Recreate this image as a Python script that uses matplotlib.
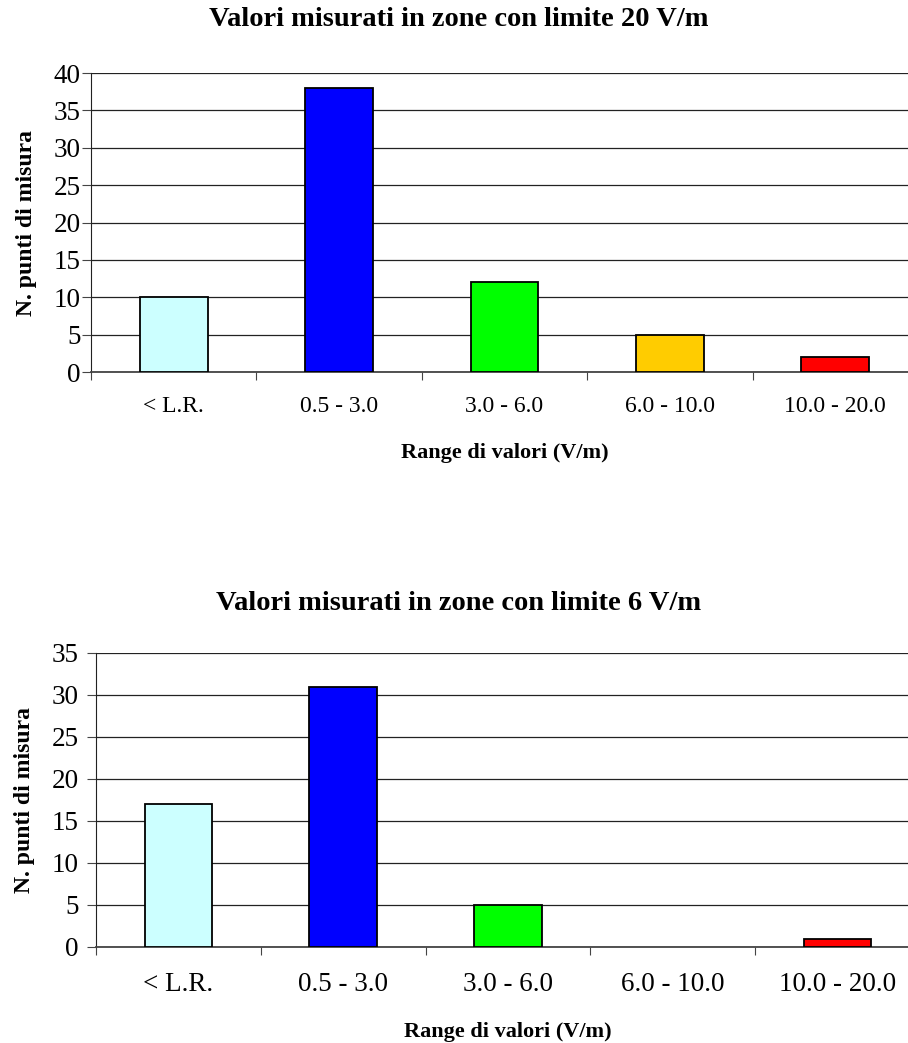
import matplotlib
matplotlib.use("Agg")
import matplotlib.pyplot as plt
import numpy as np

plt.rcParams['font.family'] = ['Liberation Serif', 'DejaVu Serif']

categories = ["< L.R.", "0.5 - 3.0", "3.0 - 6.0", "6.0 - 10.0", "10.0 - 20.0"]
values_20 = [10, 38, 12, 5, 2]
values_6 = [17, 31, 5, 0, 1]
colors = ["#CCFFFF", "#0000FF", "#00FF00", "#FFCC00", "#FF0000"]
title_20 = "Valori misurati in zone con limite 20 V/m"
title_6 = "Valori misurati in zone con limite 6 V/m"
ylabel = "N. punti di misura"
xlabel = "Range di valori (V/m)"

W, H = 908, 1043
fig = plt.figure(figsize=(W / 100, H / 100), dpi=100)

def make_ax(left, right, top, bottom, vals, ymax, title, title_y, xlabel_y,
            tick_fs, ytick_fs, xpad, ypad, ylpad):
    ax = fig.add_axes([left / W, 1 - bottom / H, (right - left) / W, (bottom - top) / H])
    x = np.arange(len(vals))
    lws = [1.3 if v > 0 else 0 for v in vals]
    ax.bar(x, vals, width=0.41, color=colors, edgecolor="black", linewidth=lws, zorder=3)
    ax.set_xlim(-0.5, len(vals) - 0.5)
    ax.set_ylim(0, ymax)
    ax.set_yticks(np.arange(0, ymax + 1, 5))
    ax.grid(axis="y", color="#222222", linewidth=0.9, zorder=0)
    ax.set_xticks(np.arange(len(vals) + 1) - 0.5)
    ax.set_xticklabels([])
    ax.set_xticks(x, minor=True)
    ax.set_xticklabels(categories, minor=True, fontsize=tick_fs)
    ax.tick_params(axis="x", which="minor", length=0, pad=xpad)
    ax.tick_params(axis="x", which="major", length=6, color="#444444")
    ax.tick_params(axis="y", length=6.5, labelsize=ytick_fs, pad=ypad, color="#444444")
    for s in ["top", "right"]:
        ax.spines[s].set_visible(False)
    ax.spines["left"].set_color("#222222")
    ax.spines["bottom"].set_color("#444444")
    ax.spines["bottom"].set_linewidth(1.3)
    ax.set_ylabel(ylabel, fontsize=17, fontweight="bold", labelpad=ylpad)
    fig.text(459 / W, 1 - title_y / H, title, ha="center", va="center",
             fontsize=20.5, fontweight="bold")
    fig.text((left + right) / 2 / W, 1 - xlabel_y / H, xlabel, ha="center", va="center",
             fontsize=16, fontweight="bold")
    return ax

ax1 = make_ax(91, 918, 73, 372, values_20, 40, title_20, 20, 453, 17, 19.5, 17, 1, 12)
ax2 = make_ax(96, 920, 653, 947, values_6, 35, title_6, 603, 1032, 19.5, 19.5, 18, 6, 12)

fig.savefig("out.png", dpi=100)
